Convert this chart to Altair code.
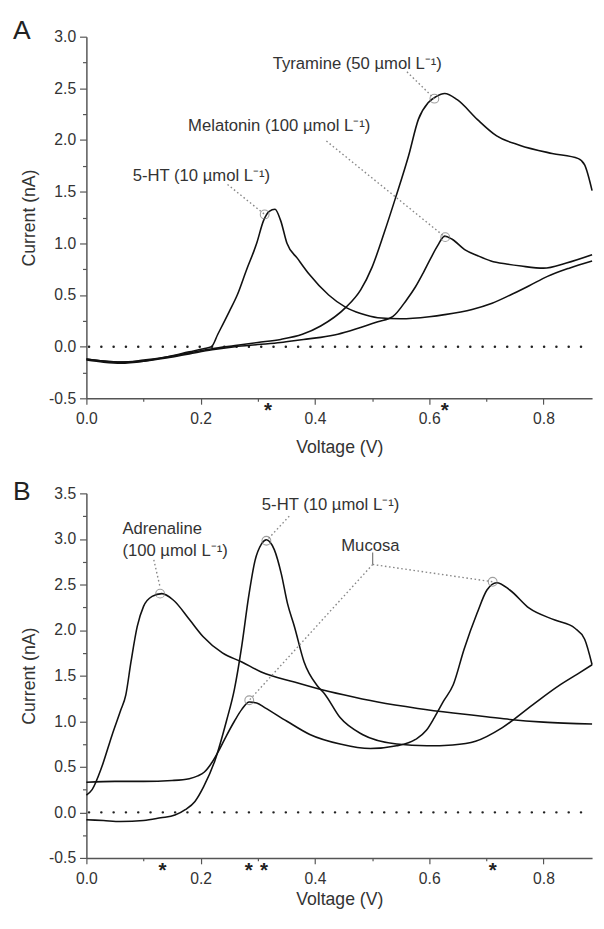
import altair as alt
import pandas as pd

FONT = "Liberation Sans"
XMAX = 0.885

# ---------------- Panel A data ----------------
a_5ht_v = [0.00, 0.03, 0.06, 0.10, 0.14, 0.18, 0.205, 0.219, 0.23, 0.25, 0.264, 0.28, 0.298, 0.31, 0.32, 0.33, 0.34,
           0.351, 0.37, 0.39, 0.424, 0.454, 0.48, 0.51, 0.55, 0.60, 0.627, 0.675, 0.71, 0.742, 0.775, 0.807, 0.845, 0.885]
a_5ht_i = [-0.13, -0.15, -0.16, -0.14, -0.10, -0.05, -0.02, 0.00, 0.12, 0.34, 0.50, 0.74, 1.00, 1.22, 1.31, 1.33, 1.22,
           1.00, 0.85, 0.70, 0.50, 0.38, 0.32, 0.28, 0.27, 0.29, 0.31, 0.36, 0.42, 0.50, 0.59, 0.68, 0.76, 0.83]

a_mel_v = [0.00, 0.03, 0.06, 0.10, 0.14, 0.18, 0.22, 0.26, 0.30, 0.34, 0.38, 0.41, 0.44, 0.477, 0.51, 0.536, 0.56,
           0.576, 0.59, 0.603, 0.615, 0.627, 0.64, 0.662, 0.685, 0.708, 0.735, 0.761, 0.80, 0.84, 0.885]
a_mel_i = [-0.12, -0.14, -0.15, -0.14, -0.11, -0.07, -0.03, 0.00, 0.02, 0.04, 0.07, 0.09, 0.12, 0.18, 0.24, 0.29, 0.45,
           0.58, 0.72, 0.86, 0.98, 1.07, 1.04, 0.94, 0.88, 0.83, 0.80, 0.78, 0.76, 0.81, 0.89]

a_tyr_v = [0.00, 0.03, 0.06, 0.10, 0.14, 0.18, 0.22, 0.26, 0.30, 0.34, 0.378, 0.41, 0.454, 0.48, 0.50, 0.521, 0.541,
           0.564, 0.581, 0.598, 0.612, 0.627, 0.649, 0.684, 0.718, 0.758, 0.815, 0.861, 0.872, 0.885]
a_tyr_i = [-0.12, -0.14, -0.15, -0.13, -0.10, -0.06, -0.02, 0.01, 0.04, 0.07, 0.12, 0.20, 0.38, 0.55, 0.77, 1.10, 1.44,
           1.85, 2.20, 2.36, 2.42, 2.45, 2.39, 2.20, 2.04, 1.95, 1.87, 1.82, 1.76, 1.51]

a_marker_v = [0.312, 0.609, 0.628]
a_marker_i = [1.28, 2.40, 1.06]

a_label_text = ["Tyramine (50 \u00b5mol L\u207b\u00b9)", "Melatonin (100 \u00b5mol L\u207b\u00b9)", "5-HT (10 \u00b5mol L\u207b\u00b9)"]
a_label_v = [0.326, 0.178, 0.081]
a_label_i = [2.73, 2.13, 1.65]

a_leader_v1 = [0.561, 0.420, 0.247]
a_leader_i1 = [2.66, 1.99, 1.57]
a_leader_v2 = [0.609, 0.628, 0.312]
a_leader_i2 = [2.40, 1.06, 1.28]

a_stars = [0.318, 0.627]

# ---------------- Panel B data ----------------
b_adr_v = [0.00, 0.01, 0.027, 0.045, 0.06, 0.069, 0.078, 0.089, 0.10, 0.115, 0.132, 0.152, 0.181, 0.204, 0.238, 0.272,
           0.306, 0.364, 0.404, 0.45, 0.51, 0.58, 0.642, 0.70, 0.741, 0.80, 0.885]
b_adr_i = [0.19, 0.25, 0.50, 0.85, 1.12, 1.29, 1.65, 2.04, 2.26, 2.37, 2.40, 2.33, 2.11, 1.93, 1.75, 1.65,
           1.54, 1.43, 1.36, 1.29, 1.21, 1.14, 1.09, 1.05, 1.02, 0.99, 0.97]

b_5ht_v = [0.00, 0.03, 0.06, 0.10, 0.13, 0.155, 0.173, 0.19, 0.205, 0.225, 0.245, 0.259, 0.272, 0.284, 0.295, 0.306,
           0.315, 0.329, 0.341, 0.352, 0.364, 0.381, 0.404, 0.417, 0.444, 0.483, 0.543, 0.596, 0.641, 0.681, 0.728,
           0.781, 0.827, 0.86, 0.885]
b_5ht_i = [-0.08, -0.09, -0.10, -0.09, -0.06, -0.03, 0.03, 0.12, 0.28, 0.57, 1.00, 1.35, 1.83, 2.37, 2.76, 2.94,
           2.99, 2.88, 2.62, 2.29, 2.04, 1.65, 1.39, 1.30, 1.04, 0.855, 0.75, 0.73, 0.74, 0.78, 0.93,
           1.18, 1.39, 1.52, 1.62]

b_muc_v = [0.00, 0.05, 0.10, 0.15, 0.18, 0.195, 0.206, 0.22, 0.232, 0.245, 0.259, 0.272, 0.285, 0.298, 0.312, 0.351,
           0.391, 0.444, 0.497, 0.543, 0.576, 0.595, 0.609, 0.625, 0.642, 0.661, 0.684, 0.701, 0.718, 0.741, 0.775,
           0.82, 0.855, 0.872, 0.885]
b_muc_i = [0.33, 0.34, 0.34, 0.35, 0.37, 0.40, 0.44, 0.55, 0.68, 0.84, 1.00, 1.13, 1.21, 1.20, 1.15, 1.00,
           0.855, 0.75, 0.70, 0.73, 0.80, 0.90, 1.04, 1.22, 1.40, 1.79, 2.19, 2.44, 2.52, 2.44, 2.24,
           2.11, 2.02, 1.90, 1.62]

b_marker_v = [0.129, 0.315, 0.285, 0.711]
b_marker_i = [2.40, 2.98, 1.23, 2.53]

b_label_text = ["Adrenaline", "(100 \u00b5mol L\u207b\u00b9)", "5-HT (10 \u00b5mol L\u207b\u00b9)", "Mucosa"]
b_label_v = [0.063, 0.063, 0.307, 0.446]
b_label_i = [3.11, 2.87, 3.37, 2.92]

b_leader_v1 = [0.118, 0.355, 0.501, 0.501]
b_leader_i1 = [2.77, 3.25, 2.72, 2.72]
b_leader_v2 = [0.129, 0.315, 0.711, 0.285]
b_leader_i2 = [2.47, 2.98, 2.53, 1.23]
b_tick_v = [0.501]
b_tick_i1 = [2.85]
b_tick_i2 = [2.72]

b_stars = [0.133, 0.284, 0.311, 0.711]

x_ticks = [round(0.1 * k, 1) for k in range(0, 9)]


def curves_df(series):
    rows = []
    for name, vs, cs in series:
        for v, c in zip(vs, cs):
            rows.append({"series": name, "V": v, "I": c})
    return pd.DataFrame(rows)


def panel(curves, ymin, ymax, height, mk_v, mk_i, lb_t, lb_v, lb_i, l_v1, l_i1, l_v2, l_i2, stars, letter,
          letter_y, title_pad, extra_tick=None):
    y_ticks = [ymin + 0.25 * k for k in range(int(round((ymax - ymin) / 0.25)) + 1)]
    xs = alt.Scale(domain=[0, XMAX], nice=False, zero=False)
    ys = alt.Scale(domain=[ymin, ymax], nice=False, zero=False)
    xaxis = alt.Axis(
        values=x_ticks,
        labelExpr="round(datum.value*10) % 2 === 0 ? format(datum.value, '.1f') : ''",
        tickSize={"condition": {"test": "round(datum.value*10) % 2 === 0", "value": 6}, "value": 3},
        title="Voltage (V)", labelFlush=False, labelOverlap=False, labelPadding=7, titlePadding=title_pad,
    )
    yaxis = alt.Axis(
        values=y_ticks,
        labelExpr="datum.value % 0.5 === 0 ? replace(format(datum.value, '.1f'), '\u2212', '-') : ''",
        tickSize={"condition": {"test": "datum.value % 0.5 === 0", "value": 7}, "value": 4},
        title="Current (nA)", labelOverlap=False, labelPadding=4, titlePadding=10,
    )

    def X(f="V:Q"):
        return alt.X(f, scale=xs, axis=xaxis)

    def Y(f="I:Q"):
        return alt.Y(f, scale=ys, axis=yaxis)

    lines = alt.Chart(curves).mark_line(color="#111", strokeWidth=1.6, interpolate="monotone").encode(
        x=X(), y=Y(), detail="series:N", order="V:Q",
    )
    zero = alt.Chart(pd.DataFrame({"I": [0.0]})).mark_rule(
        color="#222", strokeWidth=2.5, strokeDash=[0.1, 12.45], strokeCap="round", strokeDashOffset=1.3
    ).encode(y=Y())
    lead_df = pd.DataFrame({"V": l_v1, "I": l_i1, "V2": l_v2, "I2": l_i2})
    leaders = alt.Chart(lead_df).mark_rule(color="#888", strokeWidth=1.4, strokeDash=[1.6, 2.6]).encode(
        x=X(), y=Y(), x2="V2:Q", y2="I2:Q")
    layers = [zero, lines, leaders]
    if extra_tick is not None:
        tv, ti1, ti2 = extra_tick
        tdf = pd.DataFrame({"V": tv, "I": ti1, "I2": ti2})
        layers.append(alt.Chart(tdf).mark_rule(color="#777", strokeWidth=1.2).encode(
            x=X(), y=Y(), y2="I2:Q"))
    mk = alt.Chart(pd.DataFrame({"V": mk_v, "I": mk_i})).mark_point(
        shape="circle", filled=False, size=80, color="#777", strokeWidth=1.1
    ).encode(x=X(), y=Y())
    lbl = alt.Chart(pd.DataFrame({"V": lb_v, "I": lb_i, "t": lb_t})).mark_text(
        align="left", baseline="middle", font=FONT, fontSize=17, color="#333"
    ).encode(x=X(), y=Y(), text="t:N")
    st = alt.Chart(pd.DataFrame({"V": stars, "I": [ymin] * len(stars)})).mark_text(
        text="*", fontSize=21, fontWeight="bold", font=FONT, color="#222", baseline="middle", dy=13
    ).encode(x=X(), y=Y())
    let = alt.Chart(pd.DataFrame({"t": [letter]})).mark_text(
        align="left", baseline="top", font=FONT, fontSize=27, color="#222"
    ).encode(text="t:N", x=alt.value(-75), y=alt.value(letter_y))
    layers += [mk, lbl, st, let]
    return alt.layer(*layers).properties(width=516, height=height)


cA = curves_df([("5-HT", a_5ht_v, a_5ht_i), ("Melatonin", a_mel_v, a_mel_i), ("Tyramine", a_tyr_v, a_tyr_i)])
cB = curves_df([("Adrenaline", b_adr_v, b_adr_i), ("5-HT", b_5ht_v, b_5ht_i), ("Mucosa", b_muc_v, b_muc_i)])

pA = panel(cA, -0.5, 3.0, 369, a_marker_v, a_marker_i, a_label_text, a_label_v, a_label_i,
           a_leader_v1, a_leader_i1, a_leader_v2, a_leader_i2, a_stars, "A", -19, 12)
pB = panel(cB, -0.5, 3.5, 372, b_marker_v, b_marker_i, b_label_text, b_label_v, b_label_i,
           b_leader_v1, b_leader_i1, b_leader_v2, b_leader_i2, b_stars, "B", -14, 5,
           extra_tick=(b_tick_v, b_tick_i1, b_tick_i2))

chart = alt.vconcat(pA, pB, spacing=23).properties(
    padding={"left": 5, "top": 0, "right": 0, "bottom": 0}
).configure_view(stroke=None).configure_axis(
    grid=False, domainColor="#555", domainWidth=1.5, tickColor="#555", tickWidth=1.2,
    labelFont=FONT, labelFontSize=16, labelColor="#333",
    titleFont=FONT, titleFontSize=18, titleFontWeight="normal", titleColor="#333",
)

chart.save("out.html", embed_options={"renderer": "svg", "actions": False})
